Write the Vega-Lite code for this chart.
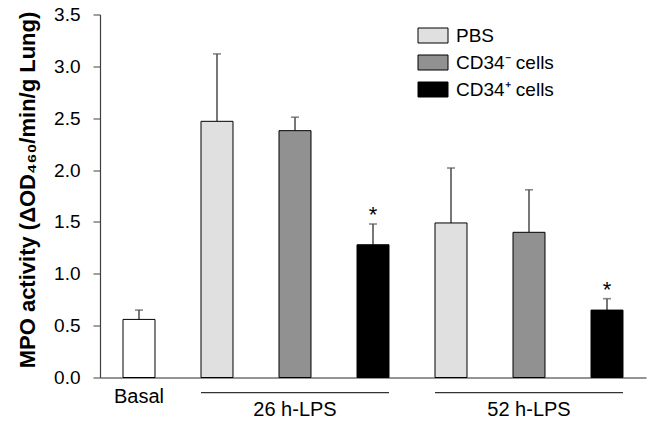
{
  "$schema": "https://vega.github.io/schema/vega-lite/v6.json",
  "autosize": "none",
  "width": 546,
  "height": 363,
  "padding": {"left": 100, "top": 14.5, "right": 6, "bottom": 45.5},
  "background": "white",
  "config": {
    "view": {"stroke": null},
    "font": "Liberation Sans",
    "axis": {"grid": false}
  },
  "datasets": {
    "bars": [
      {"slot": "Basal", "treatment": "Basal", "mean": 0.56, "upper": 0.65, "sig": ""},
      {"slot": "26 PBS", "treatment": "PBS", "mean": 2.47, "upper": 3.12, "sig": ""},
      {"slot": "26 CD34-", "treatment": "CD34⁻ cells", "mean": 2.38, "upper": 2.51, "sig": ""},
      {"slot": "26 CD34+", "treatment": "CD34⁺ cells", "mean": 1.28, "upper": 1.48, "sig": "*"},
      {"slot": "52 PBS", "treatment": "PBS", "mean": 1.49, "upper": 2.02, "sig": ""},
      {"slot": "52 CD34-", "treatment": "CD34⁻ cells", "mean": 1.40, "upper": 1.81, "sig": ""},
      {"slot": "52 CD34+", "treatment": "CD34⁺ cells", "mean": 0.65, "upper": 0.76, "sig": "*"}
    ],
    "groups": [
      {"group": "26 h-LPS", "from": "26 PBS", "to": "26 CD34+", "mid": "26 CD34-"},
      {"group": "52 h-LPS", "from": "52 PBS", "to": "52 CD34+", "mid": "52 CD34-"}
    ]
  },
  "layer": [
    {
      "data": {"name": "bars"},
      "mark": {"type": "rule", "color": "#555555", "strokeWidth": 1.6},
      "encoding": {
        "x": {"field": "slot", "type": "nominal"},
        "y": {"field": "mean", "type": "quantitative"},
        "y2": {"field": "upper"}
      }
    },
    {
      "data": {"name": "bars"},
      "mark": {"type": "tick", "color": "#555555", "orient": "horizontal", "size": 8, "thickness": 1.6},
      "encoding": {
        "x": {"field": "slot", "type": "nominal"},
        "y": {"field": "upper", "type": "quantitative"}
      }
    },
    {
      "data": {"name": "bars"},
      "mark": {"type": "bar", "stroke": "black", "strokeWidth": 1},
      "encoding": {
        "x": {
          "field": "slot", "type": "nominal", "sort": null,
          "scale": {"domain": ["Basal", "26 PBS", "26 CD34-", "26 CD34+", "52 PBS", "52 CD34-", "52 CD34+"], "paddingInner": 0.59, "paddingOuter": 0.295},
          "axis": {"title": null, "labels": false, "ticks": false, "domainColor": "#707070", "domainWidth": 1.5}
        },
        "y": {
          "field": "mean", "type": "quantitative",
          "scale": {"domain": [0, 3.5], "nice": false, "zero": true},
          "axis": {
            "title": "MPO activity (ΔOD₄₆₀/min/g Lung)",
            "titleFontSize": 22, "titleFontWeight": "bold", "titleColor": "black", "titleFont": "Liberation Sans",
            "titleY": 175,
            "values": [0, 0.5, 1, 1.5, 2, 2.5, 3, 3.5], "format": ".1f",
            "labelFontSize": 19, "labelColor": "black", "labelPadding": 13,
            "tickSize": 7, "tickColor": "#404040", "domainColor": "#404040", "domainWidth": 1.2,
            "titlePadding": 14
          }
        },
        "fill": {
          "field": "treatment", "type": "nominal",
          "scale": {"domain": ["Basal", "PBS", "CD34⁻ cells", "CD34⁺ cells"], "range": ["#ffffff", "#e0e0e0", "#919191", "#000000"]},
          "legend": {
            "title": null,
            "values": ["PBS", "CD34⁻ cells", "CD34⁺ cells"],
            "orient": "none", "legendX": 323.5, "legendY": 11.5,
            "symbolType": "M-2,-1H2V1H-2Z", "symbolSize": 225,
            "symbolStrokeColor": "black", "symbolStrokeWidth": 1, "symbolOpacity": 1,
            "labelFontSize": 19, "labelColor": "black", "labelOffset": 13.5,
            "rowPadding": 7, "padding": 0
          }
        }
      }
    },
    {
      "data": {"name": "bars"},
      "mark": {"type": "text", "fontSize": 22, "baseline": "middle", "dy": -9, "color": "black"},
      "encoding": {
        "x": {"field": "slot", "type": "nominal"},
        "y": {"field": "upper", "type": "quantitative"},
        "text": {"field": "sig"}
      }
    },
    {
      "data": {"name": "groups"},
      "mark": {"type": "rule", "color": "#333333", "strokeWidth": 1.2},
      "encoding": {
        "x": {"field": "from", "type": "nominal", "bandPosition": 0},
        "x2": {"field": "to", "bandPosition": 1},
        "y": {"datum": -0.146}
      }
    },
    {
      "data": {"name": "groups"},
      "mark": {"type": "text", "fontSize": 20, "baseline": "middle", "color": "black"},
      "encoding": {
        "x": {"field": "mid", "type": "nominal"},
        "y": {"datum": -0.313},
        "text": {"field": "group"}
      }
    },
    {
      "data": {"values": [{"label": "Basal", "slot": "Basal"}]},
      "mark": {"type": "text", "fontSize": 20, "baseline": "middle", "color": "black"},
      "encoding": {
        "x": {"field": "slot", "type": "nominal"},
        "y": {"datum": -0.19},
        "text": {"field": "label"}
      }
    }
  ]
}
